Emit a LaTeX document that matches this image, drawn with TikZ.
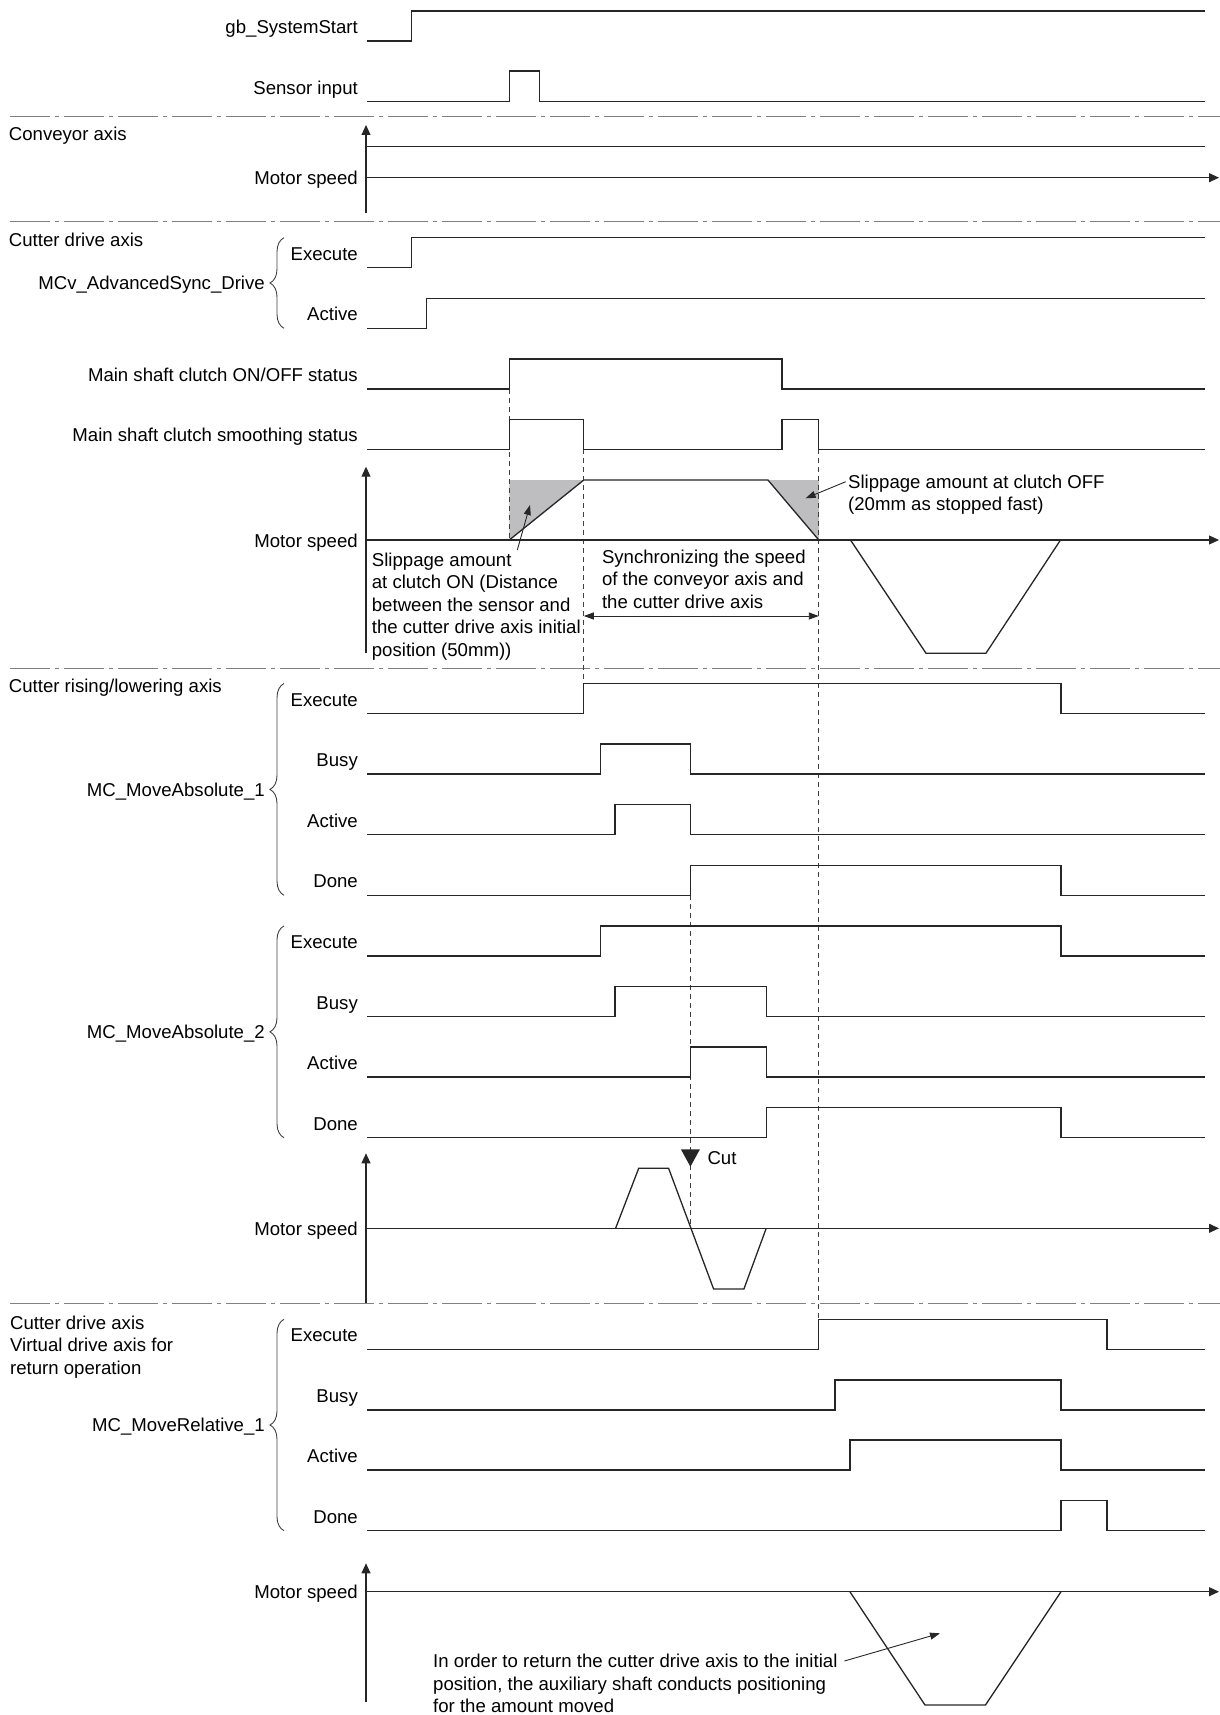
\documentclass[tikz,border=0pt]{standalone}
\usepackage{fontspec}
\setmainfont{Liberation Sans}
\usetikzlibrary{arrows.meta, decorations.pathreplacing, calc}
\definecolor{slipgray}{RGB}{190,190,192}
\colorlet{sigline}{black!85}
\colorlet{sepline}{black!50}

\tikzset{
  wave/.style={line width=1.3pt, sigline},
  sepdash/.style={sepline, line width=1.4pt, dash pattern=on 40pt off 5pt on 4pt off 5pt},
  guide/.style={black!75, line width=1pt, dash pattern=on 5pt off 4pt},
  axisarrow/.style={line width=1.1pt, sigline, -{Triangle[length=10pt,width=9pt]}},
  lbl/.style={anchor=base east, inner sep=0pt},
  axlbl/.style={anchor=base west, inner sep=0pt},
  note/.style={anchor=north west, inner sep=0pt, align=left},
  grpbrace/.style={decorate, decoration={brace, amplitude=14pt}, line width=0.9pt, black!75},
  callout/.style={line width=0.9pt, sigline, -{Triangle[length=10pt,width=7pt]}}
}

\begin{document}
\begin{tikzpicture}[x=1pt, y=-1pt, font=\fontsize{18.6}{22.5}\selectfont]
  \useasboundingbox (0,0) rectangle (1220,1715);

  % section separators
  \foreach \y in {116.7, 221.7, 668.3, 1303.3}
    \draw[sepdash] (10,\y) -- (1220,\y);

  % slippage areas and timing guides
  \fill[slipgray] (509.3,480) -- (583.8,480) -- (509.3,540) -- cycle;
  \fill[slipgray] (767.9,480) -- (818.8,480) -- (818.8,540) -- cycle;
  \draw[guide] (509.3,389) -- (509.3,540);
  \draw[guide] (583.8,449.3) -- (583.8,683.5);
  \draw[guide] (818.8,449.3) -- (818.8,1319.3);
  \draw[guide] (690.4,895.3) -- (690.4,1228.3);

  % start and sensor
  \node[lbl] (gbLbl) at (358,33.5) {gb\_SystemStart};
  \draw[wave] (367,41) -| (411.2,11) -- (1205,11);
  \node[lbl] (sensorLbl) at (358,94.2) {Sensor input};
  \draw[wave] (367,101.7) -| (509.3,71) -| (539.3,101.7) -- (1205,101.7);

  % conveyor axis
  \node[axlbl] (convLbl) at (8.7,140.7) {Conveyor axis};
  \draw[axisarrow] (366,213) -- (366,125);
  \draw[wave] (366,146.7) -- (1205,146.7);
  \draw[axisarrow] (366,177.7) -- (1219,177.7);
  \node[lbl] (convSpd) at (358,184.7) {Motor speed};

  % cutter drive axis
  \node[axlbl] (driveLbl) at (8.7,246.7) {Cutter drive axis};
  \node[lbl] (syncExe) at (358,260.2) {Execute};
  \draw[wave] (367,267.7) -| (411.2,237.7) -- (1205,237.7);
  \node[lbl] (syncAct) at (358,320.8) {Active};
  \draw[wave] (367,328.3) -| (426.3,298.3) -- (1205,298.3);
  \draw[grpbrace] (284,328.3) -- (284,237.7);
  \node[lbl] (syncFb) at (265,289.5) {MCv\_AdvancedSync\_Drive};

  \node[lbl] (clutchLbl) at (358,381.5) {Main shaft clutch ON/OFF status};
  \draw[wave] (367,389) -| (509.3,359) -| (782,389) -- (1205,389);
  \node[lbl] (smoothLbl) at (358,441.8) {Main shaft clutch smoothing status};
  \draw[wave] (367,449.3) -| (509.3,419.3) -| (583.8,449.3) -| (782,419.3) -| (818.8,449.3) -- (1205,449.3);

  \draw[axisarrow] (366,653.3) -- (366,466.7);
  \draw[axisarrow] (366,540) -- (1219,540);
  \draw[wave] (509.3,540) -- (583.8,480) -- (767.9,480) -- (818.8,540);
  \draw[wave] (850.5,540) -- (926,653.3) -- (985.9,653.3) -- (1060.5,540);
  \node[lbl] (driveSpd) at (358,547) {Motor speed};

  \node[note] (slipOn) at (371.7,552.4) {Slippage amount\\at clutch ON (Distance\\between the sensor and\\the cutter drive axis initial\\position (50mm))};
  \coordinate (slipOnFrom) at (517.3,550);
  \coordinate (slipOnTip) at (530,505);
  \draw[callout] (slipOnFrom) -- (slipOnTip);

  \node[note] (slipOff) at (848,474.4) {Slippage amount at clutch OFF\\(20mm as stopped fast)};
  \coordinate (slipOffFrom) at (845.7,481.7);
  \coordinate (slipOffTip) at (805.6,498.3);
  \draw[callout] (slipOffFrom) -- (slipOffTip);

  \node[note] (syncTxt) at (601.8,549.8) {Synchronizing the speed\\of the conveyor axis and\\the cutter drive axis};
  \coordinate (syncL) at (583.8,616);
  \coordinate (syncR) at (818.8,616);
  \draw[callout, {Triangle[length=10pt,width=7pt]}-{Triangle[length=10pt,width=7pt]}] (syncL) -- (syncR);

  % cutter rising/lowering axis
  \node[axlbl] (liftLbl) at (8.7,692.7) {Cutter rising/lowering axis};
  \node[lbl] (abs1Exe) at (358,706) {Execute};
  \draw[wave] (367,713.5) -| (583.8,683.5) -| (1061,713.5) -- (1205,713.5);
  \node[lbl] (abs1Busy) at (358,766.6) {Busy};
  \draw[wave] (367,774.1) -| (600.2,744.1) -| (690.4,774.1) -- (1205,774.1);
  \node[lbl] (abs1Act) at (358,827.2) {Active};
  \draw[wave] (367,834.7) -| (614.9,804.7) -| (690.4,834.7) -- (1205,834.7);
  \node[lbl] (abs1Done) at (358,887.8) {Done};
  \draw[wave] (367,895.3) -| (690.4,865.3) -| (1061,895.3) -- (1205,895.3);
  \draw[grpbrace] (284,895.3) -- (284,683.5);
  \node[lbl] (abs1Fb) at (265,796) {MC\_MoveAbsolute\_1};

  \node[lbl] (abs2Exe) at (358,948.4) {Execute};
  \draw[wave] (367,955.9) -| (600.2,925.9) -| (1061,955.9) -- (1205,955.9);
  \node[lbl] (abs2Busy) at (358,1009) {Busy};
  \draw[wave] (367,1016.5) -| (614.9,986.5) -| (766.2,1016.5) -- (1205,1016.5);
  \node[lbl] (abs2Act) at (358,1069.6) {Active};
  \draw[wave] (367,1077.1) -| (690.4,1047.1) -| (766.2,1077.1) -- (1205,1077.1);
  \node[lbl] (abs2Done) at (358,1130.2) {Done};
  \draw[wave] (367,1137.7) -| (766.2,1107.7) -| (1061,1137.7) -- (1205,1137.7);
  \draw[grpbrace] (284,1137.7) -- (284,925.9);
  \node[lbl] (abs2Fb) at (265,1038.3) {MC\_MoveAbsolute\_2};

  \draw[axisarrow] (366,1303.3) -- (366,1153.3);
  \draw[axisarrow] (366,1228.3) -- (1219,1228.3);
  \draw[wave] (615.6,1228.3) -- (638.7,1168.3) -- (668.6,1168.3) -- (713.6,1289) -- (743.9,1289) -- (766.2,1228.3);
  \node[lbl] (liftSpd) at (358,1235.3) {Motor speed};
  \fill[sigline] (680.9,1149.3) -- (699.9,1149.3) -- (690.4,1166.7) -- cycle;
  \node[anchor=base west, inner sep=0pt] (cutLbl) at (707.3,1164) {Cut};

  % virtual drive axis for return
  \node[note] (retLbl) at (9.9,1315.4) {Cutter drive axis\\Virtual drive axis for\\return operation};
  \node[lbl] (relExe) at (358,1341.8) {Execute};
  \draw[wave] (367,1349.3) -| (818.8,1319.3) -| (1106.9,1349.3) -- (1205,1349.3);
  \node[lbl] (relBusy) at (358,1402.5) {Busy};
  \draw[wave] (367,1410) -| (834.9,1380) -| (1061,1410) -- (1205,1410);
  \node[lbl] (relAct) at (358,1462.5) {Active};
  \draw[wave] (367,1470) -| (849.9,1440) -| (1061,1470) -- (1205,1470);
  \node[lbl] (relDone) at (358,1523.2) {Done};
  \draw[wave] (367,1530.7) -| (1061,1500.7) -| (1106.9,1530.7) -- (1205,1530.7);
  \draw[grpbrace] (284,1530.7) -- (284,1319.3);
  \node[lbl] (relFb) at (265,1431.5) {MC\_MoveRelative\_1};

  \draw[axisarrow] (366,1701.7) -- (366,1563.3);
  \draw[axisarrow] (366,1591.7) -- (1219,1591.7);
  \draw[wave] (849.9,1591.7) -- (925,1705) -- (985.5,1705) -- (1061,1591.7);
  \node[lbl] (relSpd) at (358,1598.7) {Motor speed};

  \node[note] (retTxt) at (433,1654) {In order to return the cutter drive axis to the initial\\position, the auxiliary shaft conducts positioning\\for the amount moved};
  \coordinate (retFrom) at (844.4,1661);
  \coordinate (retTip) at (940,1633.3);
  \draw[callout] (retFrom) -- (retTip);
\end{tikzpicture}
\end{document}
